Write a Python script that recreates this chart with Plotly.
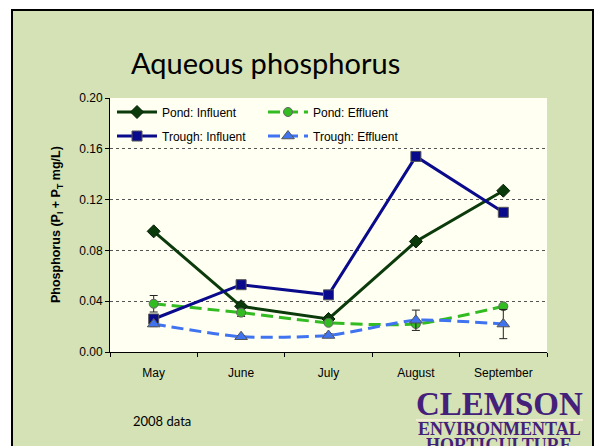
import plotly.graph_objects as go

months = ["May", "June", "July", "August", "September"]
pond_influent = [0.095, 0.036, 0.026, 0.087, 0.127]
pond_effluent = [0.038, 0.031, 0.023, 0.022, 0.036]
pond_effluent_err = [0.0065, 0.003, 0.001, 0.002, 0.001]
trough_influent = [0.026, 0.053, 0.045, 0.154, 0.110]
trough_effluent = [0.022, 0.012, 0.013, 0.025, 0.022]
trough_effluent_err = [0.002, 0.001, 0.0015, 0.008, 0.0115]
y_ticks = [0.00, 0.04, 0.08, 0.12, 0.16, 0.20]

# The page body has an 8px margin, so the figure is drawn 8px in from the corner.
OFF = 8
W, H = 604 - OFF, 446 - OFF
PLOT_L, PLOT_R, PLOT_T, PLOT_B = 110, 547, 98, 352   # page pixel positions
L, R, T, B = PLOT_L - OFF, W - (PLOT_R - OFF), PLOT_T - OFF, H - (PLOT_B - OFF)
pw, ph = W - L - R, H - T - B

def px(x):
    return (x - OFF - L) / pw

def py(y):
    return (H - B - (y - OFF)) / ph

fig = go.Figure()

fig.add_trace(go.Scatter(
    x=months, y=pond_influent, name="Pond: Influent", mode="lines+markers",
    line=dict(color="#0B3A0B", width=3),
    marker=dict(symbol="diamond", size=10, color="#0B3A0B", line=dict(color="#062006", width=1)),
    legend="legend"))
fig.add_trace(go.Scatter(
    x=months, y=pond_effluent, name="Pond: Effluent", mode="lines+markers",
    line=dict(color="#33BB22", width=3, dash="12px,6px", shape="spline", smoothing=0.6),
    marker=dict(symbol="circle", size=9, color="#33BB22", line=dict(color="#666666", width=1)),
    error_y=dict(type="data", array=pond_effluent_err, color="#222222", thickness=1, width=4),
    legend="legend"))
fig.add_trace(go.Scatter(
    x=months, y=trough_influent, name="Trough: Influent", mode="lines+markers",
    line=dict(color="#0A0A8C", width=3),
    marker=dict(symbol="square", size=10, color="#0A0A8C", line=dict(color="#555555", width=1)),
    legend="legend2"))
fig.add_trace(go.Scatter(
    x=months, y=trough_effluent, name="Trough: Effluent", mode="lines+markers",
    line=dict(color="#3F73F0", width=3, dash="12px,6px", shape="spline", smoothing=0.6),
    marker=dict(symbol="triangle-up", size=11, color="#3F73F0", line=dict(color="#555555", width=1)),
    error_y=dict(type="data", array=trough_effluent_err, color="#222222", thickness=1, width=4),
    legend="legend2"))

legend_common = dict(orientation="h", xanchor="left", yanchor="middle",
                     bgcolor="rgba(0,0,0,0)", entrywidth=96, entrywidthmode="pixels",
                     font=dict(family="Arial, Liberation Sans", size=12, color="#000000"),
                     tracegroupgap=0, itemwidth=40)

shapes = [
    dict(type="rect", xref="paper", yref="paper", x0=px(12), x1=px(593), y0=py(470), y1=py(10),
         fillcolor="#D4E2B6", line=dict(color="#000000", width=2), layer="below"),
    dict(type="rect", xref="paper", yref="paper", x0=0, x1=1, y0=0, y1=1,
         fillcolor="#FFFFF2", line=dict(width=0), layer="below"),
    dict(type="line", xref="paper", yref="paper", x0=px(416), x1=px(583), y0=py(420), y1=py(420),
         line=dict(color="#F3ECD5", width=2)),
]

logo_color = "#45207A"
annotations = [
    dict(text="Aqueous phosphorus", xref="paper", yref="paper", x=px(265), y=py(62),
         showarrow=False, font=dict(family="Lato, Open Sans", size=29, color="#000000"),
         xanchor="center", yanchor="middle"),
    dict(text="<b>Phosphorus (P<sub>I</sub> + P<sub>T</sub> mg/L)</b>", xref="paper", yref="paper",
         x=px(57), y=0.5, textangle=-90, showarrow=False,
         font=dict(family="Arial, Liberation Sans", size=12.5, color="#000000"),
         xanchor="center", yanchor="middle"),
    dict(text="2008 data", xref="paper", yref="paper", x=px(131), y=py(421),
         showarrow=False, font=dict(family="Lato, Open Sans", size=13, color="#000000"),
         xanchor="left", yanchor="middle"),
    dict(text="<b>CLEMSON</b>", xref="paper", yref="paper", x=px(499), y=py(404),
         showarrow=False, font=dict(family="Liberation Serif", size=33, color=logo_color),
         xanchor="center", yanchor="middle"),
    dict(text="<b>ENVIRONMENTAL</b>", xref="paper", yref="paper", x=px(499), y=py(429),
         showarrow=False, font=dict(family="Liberation Serif", size=18, color=logo_color),
         xanchor="center", yanchor="middle"),
    dict(text="<b>HORTICULTURE</b>", xref="paper", yref="paper", x=px(499), y=py(445),
         showarrow=False, font=dict(family="Liberation Serif", size=18, color=logo_color),
         xanchor="center", yanchor="middle"),
]

fig.update_layout(
    width=W, height=H,
    margin=dict(l=L, r=R, t=T, b=B),
    paper_bgcolor="#FFFFFF",
    plot_bgcolor="rgba(0,0,0,0)",
    showlegend=True,
    legend=dict(x=px(112), y=py(112), **legend_common),
    legend2=dict(x=px(112), y=py(136), **legend_common),
    shapes=shapes,
    annotations=annotations,
    xaxis=dict(
        type="category", range=[-0.5, 4.5], tickson="boundaries",
        showline=True, linecolor="#000000", linewidth=1,
        ticks="outside", ticklen=4, tickcolor="#000000",
        ticklabelstandoff=10,
        showgrid=False, zeroline=False,
        tickfont=dict(family="Arial, Liberation Sans", size=12, color="#000000"),
    ),
    yaxis=dict(
        range=[0, 0.20], tickvals=y_ticks, ticktext=[f"{v:.2f}" for v in y_ticks],
        showline=True, linecolor="#000000", linewidth=1,
        ticks="outside", ticklen=4, tickcolor="#000000",
        showgrid=True, gridcolor="#555555", griddash="dot", gridwidth=1,
        zeroline=False,
        tickfont=dict(family="Arial, Liberation Sans", size=12, color="#000000"),
    ),
)

fig.write_html("out.html")
